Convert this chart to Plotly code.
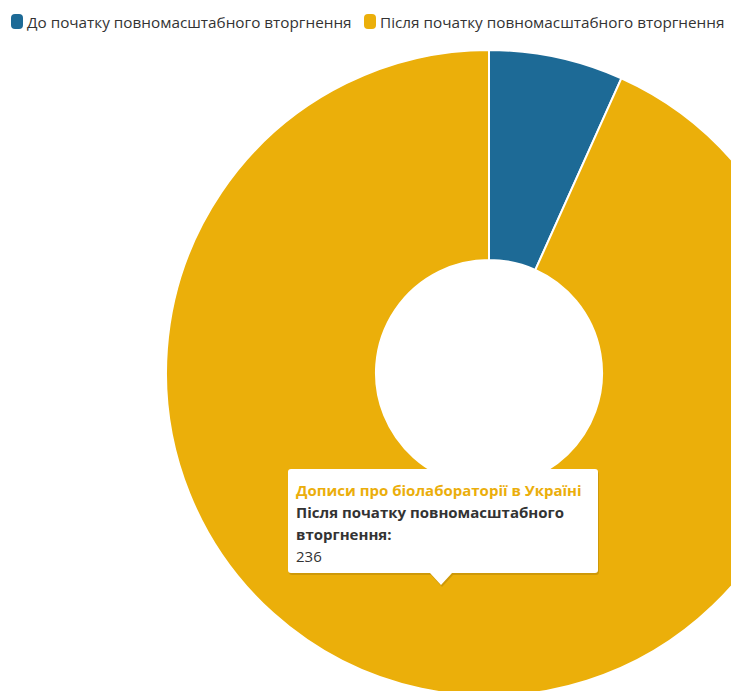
import plotly.graph_objects as go

# Posts about biolabs in Ukraine, before and after the full-scale invasion
categories = ["До початку повномасштабного вторгнення",
              "Після початку повномасштабного вторгнення"]
counts = [17, 236]
colors = ["#1d6a96", "#ebaf0a"]
series_name = "Дописи про біолабораторії в Україні"

# Canvas is larger than the viewport so the donut runs off the right/bottom edge
W, H = 820, 700
FONT = "'Open Sans', 'Noto Sans', sans-serif"
FS = 15
LEGEND_FS = 15.3


def px(x):
    return x / W


def py(y):
    return 1 - y / H


fig = go.Figure()
fig.add_trace(go.Pie(
    labels=categories,
    values=counts,
    name=series_name,
    hole=0.35,
    sort=False,
    direction="clockwise",
    rotation=0,
    marker=dict(colors=colors, line=dict(color="white", width=2)),
    textinfo="none",
    hoverinfo="skip",
    showlegend=False,
    domain=dict(x=[px(166), px(812)], y=[py(696), py(50)]),
))


def rrect(x0, y0, x1, y1, r):
    return " ".join([
        f"M {px(x0 + r)} {py(y0)}",
        f"L {px(x1 - r)} {py(y0)}",
        f"Q {px(x1)} {py(y0)} {px(x1)} {py(y0 + r)}",
        f"L {px(x1)} {py(y1 - r)}",
        f"Q {px(x1)} {py(y1)} {px(x1 - r)} {py(y1)}",
        f"L {px(x0 + r)} {py(y1)}",
        f"Q {px(x0)} {py(y1)} {px(x0)} {py(y1 - r)}",
        f"L {px(x0)} {py(y0 + r)}",
        f"Q {px(x0)} {py(y0)} {px(x0 + r)} {py(y0)}",
        "Z",
    ])


# Legend row: rounded swatch followed by the category label
legend_x = [11, 364]
for lx, label, col in zip(legend_x, categories, colors):
    fig.add_shape(type="path", xref="paper", yref="paper",
                  path=rrect(lx, 14, lx + 12, 29, 4),
                  fillcolor=col, line=dict(width=0))
    fig.add_annotation(x=px(lx + 14), y=py(22), xref="paper", yref="paper",
                       text=label, showarrow=False, xanchor="left", yanchor="middle",
                       font=dict(family=FONT, size=LEGEND_FS, color="#333333"))

# Tooltip card for the highlighted slice
bx0, bx1, by0, by1, r = 288, 598, 469, 573, 3
tip_x, tip_h, tip_w = 441, 12, 11


def card_path(dx=0, dy=0):
    x0, x1, y0, y1 = bx0 + dx, bx1 + dx, by0 + dy, by1 + dy
    tx = tip_x + dx
    pts = [
        f"M {px(x0 + r)} {py(y0)}",
        f"L {px(x1 - r)} {py(y0)}",
        f"Q {px(x1)} {py(y0)} {px(x1)} {py(y0 + r)}",
        f"L {px(x1)} {py(y1 - r)}",
        f"Q {px(x1)} {py(y1)} {px(x1 - r)} {py(y1)}",
        f"L {px(tx + tip_w)} {py(y1)}",
        f"L {px(tx)} {py(y1 + tip_h)}",
        f"L {px(tx - tip_w)} {py(y1)}",
        f"L {px(x0 + r)} {py(y1)}",
        f"Q {px(x0)} {py(y1)} {px(x0)} {py(y1 - r)}",
        f"L {px(x0)} {py(y0 + r)}",
        f"Q {px(x0)} {py(y0)} {px(x0 + r)} {py(y0)}",
        "Z",
    ]
    return " ".join(pts)


fig.add_shape(type="path", xref="paper", yref="paper", path=card_path(1, 2),
              fillcolor="rgba(0,0,0,0.12)", line=dict(width=0))
fig.add_shape(type="path", xref="paper", yref="paper", path=card_path(),
              fillcolor="white", line=dict(width=0))

tip_lines = [
    (490, f"<b>{series_name}</b>", "#ebae0b"),
    (512, f"<b>{categories[1].rsplit(' ', 1)[0]}</b>", "#333333"),
    (534, f"<b>{categories[1].rsplit(' ', 1)[1]}:</b>", "#333333"),
    (556, f"{counts[1]}", "#333333"),
]
for y, txt, col in tip_lines:
    fig.add_annotation(x=px(294), y=py(y), xref="paper", yref="paper",
                       text=txt, showarrow=False, xanchor="left", yanchor="middle",
                       font=dict(family=FONT, size=FS, color=col))

fig.update_layout(
    width=W, height=H,
    margin=dict(l=0, r=0, t=0, b=0),
    paper_bgcolor="white",
    font=dict(family=FONT, size=FS, color="#333333"),
    showlegend=False,
)

fig.write_html("out.html",
               post_script="document.body.style.margin='0';"
                           "document.body.style.overflow='hidden';"
                           "document.documentElement.style.overflow='hidden';")
